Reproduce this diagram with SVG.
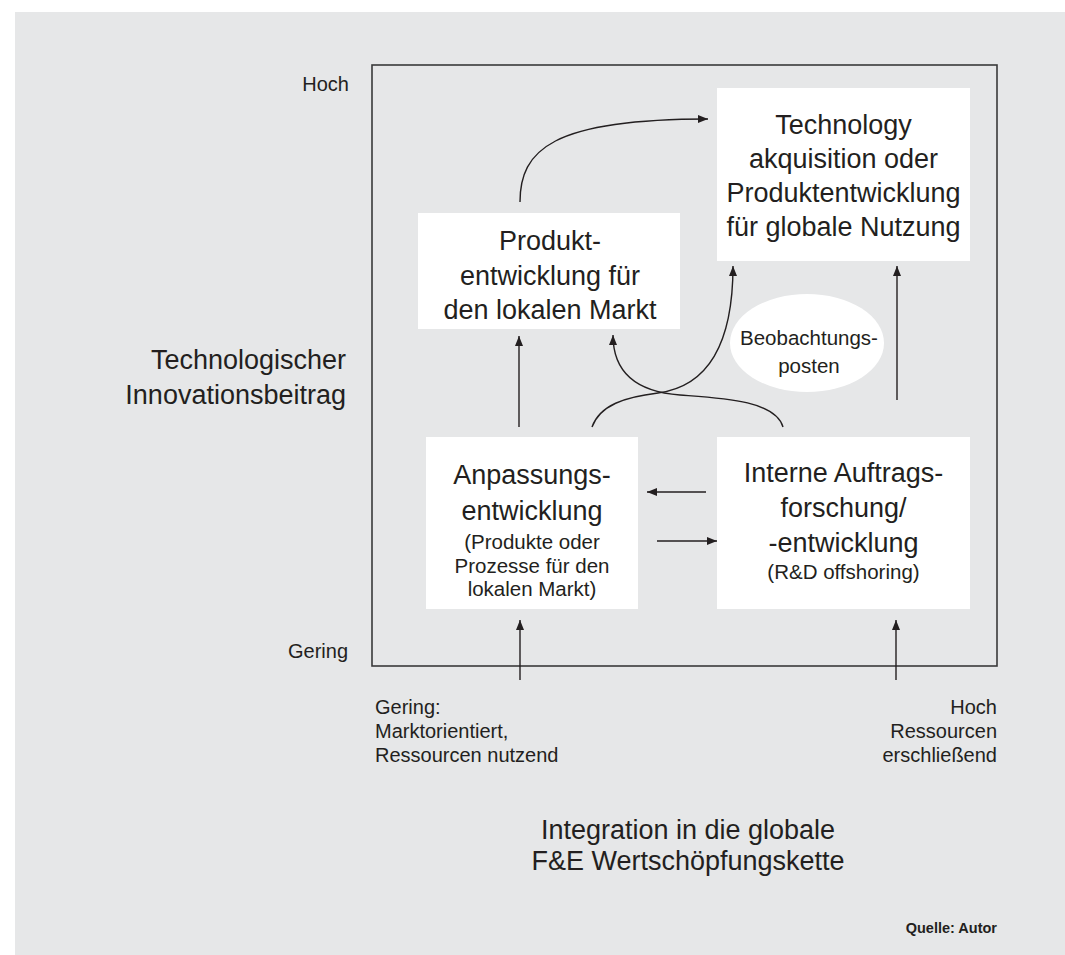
<svg xmlns="http://www.w3.org/2000/svg" width="1065" height="955" viewBox="0 0 1065 955">
<defs>
<style>
text{font-family:"Liberation Sans",Arial,sans-serif;fill:#231f20}
.big{font-size:27px}
.mid{font-size:20px}
.sm{font-size:20.5px}
.c{text-anchor:middle}
.r{text-anchor:end}
.box{fill:#ffffff}
.ln{fill:none;stroke:#231f20;stroke-width:1.4}
</style>
<marker id="ah" viewBox="0 0 10 8" refX="10" refY="4" markerWidth="11" markerHeight="8" markerUnits="userSpaceOnUse" orient="auto">
<path d="M0,0 L10,4 L0,8 Z" fill="#231f20"/>
</marker>
</defs>
<rect x="0" y="0" width="1065" height="955" fill="#ffffff"/>
<rect x="15" y="12" width="1050" height="943" fill="#e6e7e8"/>
<rect x="372" y="65" width="625" height="601" fill="none" stroke="#3a3a3a" stroke-width="1.6"/>

<g id="axis-labels">
<text class="mid r" x="349" y="91">Hoch</text>
<text class="mid r" x="348" y="658">Gering</text>
<text class="big r" x="346" y="369">Technologischer</text>
<text class="big r" x="346" y="404">Innovationsbeitrag</text>
<text class="mid" x="375" y="714">Gering:</text>
<text class="mid" x="375" y="738">Marktorientiert,</text>
<text class="mid" x="375" y="762">Ressourcen nutzend</text>
<text class="mid r" x="997" y="714">Hoch</text>
<text class="mid r" x="997" y="738">Ressourcen</text>
<text class="mid r" x="997" y="762">erschließend</text>
<text class="big c" x="688" y="839">Integration in die globale</text>
<text class="big c" x="688" y="870">F&amp;E Wertschöpfungskette</text>
<text x="997" y="933" text-anchor="end" style="font-size:14.5px;font-weight:bold">Quelle: Autor</text>
</g>

<g id="node-technology">
<rect class="box" x="717" y="88" width="253" height="173"/>
<text class="big c" x="843.5" y="134">Technology</text>
<text class="big c" x="843.5" y="168">akquisition oder</text>
<text class="big c" x="843.5" y="202">Produktentwicklung</text>
<text class="big c" x="843.5" y="236">für globale Nutzung</text>
</g>

<g id="node-produkt">
<rect class="box" x="418" y="213" width="262" height="116"/>
<text class="big c" x="550" y="250">Produkt-</text>
<text class="big c" x="550" y="285">entwicklung für</text>
<text class="big c" x="550" y="319">den lokalen Markt</text>
</g>

<g id="node-beobachtung">
<ellipse cx="807" cy="343" rx="77" ry="49" fill="#ffffff"/>
<text class="sm c" x="809" y="345">Beobachtungs-</text>
<text class="sm c" x="809" y="373">posten</text>
</g>

<g id="node-anpassung">
<rect class="box" x="426" y="437" width="212" height="172"/>
<text class="big c" x="532" y="484">Anpassungs-</text>
<text class="big c" x="532" y="520">entwicklung</text>
<text class="sm c" x="532" y="549">(Produkte oder</text>
<text class="sm c" x="532" y="573">Prozesse für den</text>
<text class="sm c" x="532" y="596">lokalen Markt)</text>
</g>

<g id="node-interne">
<rect class="box" x="717" y="437" width="253" height="172"/>
<text class="big c" x="843.5" y="482">Interne Auftrags-</text>
<text class="big c" x="843.5" y="517">forschung/</text>
<text class="big c" x="843.5" y="552">-entwicklung</text>
<text class="sm c" x="843.5" y="579">(R&amp;D offshoring)</text>
</g>

<g id="connectors">
<path class="ln" d="M520,202 C520,150 552,119 708,119" marker-end="url(#ah)"/>
<path class="ln" d="M592,427 C600,405 625,397 658,393 C710,386 733,340 733,266" marker-end="url(#ah)"/>
<path class="ln" d="M783,427 C775,400 720,398 680,395 C640,392 613,375 613,335" marker-end="url(#ah)"/>
<line class="ln" x1="519" y1="427" x2="519" y2="336" marker-end="url(#ah)"/>
<line class="ln" x1="897" y1="400" x2="897" y2="266" marker-end="url(#ah)"/>
<line class="ln" x1="706" y1="492" x2="647" y2="492" marker-end="url(#ah)"/>
<line class="ln" x1="657" y1="541" x2="717" y2="541" marker-end="url(#ah)"/>
<line class="ln" x1="520" y1="680" x2="520" y2="620" marker-end="url(#ah)"/>
<line class="ln" x1="896" y1="680" x2="896" y2="620" marker-end="url(#ah)"/>
</g>
</svg>
